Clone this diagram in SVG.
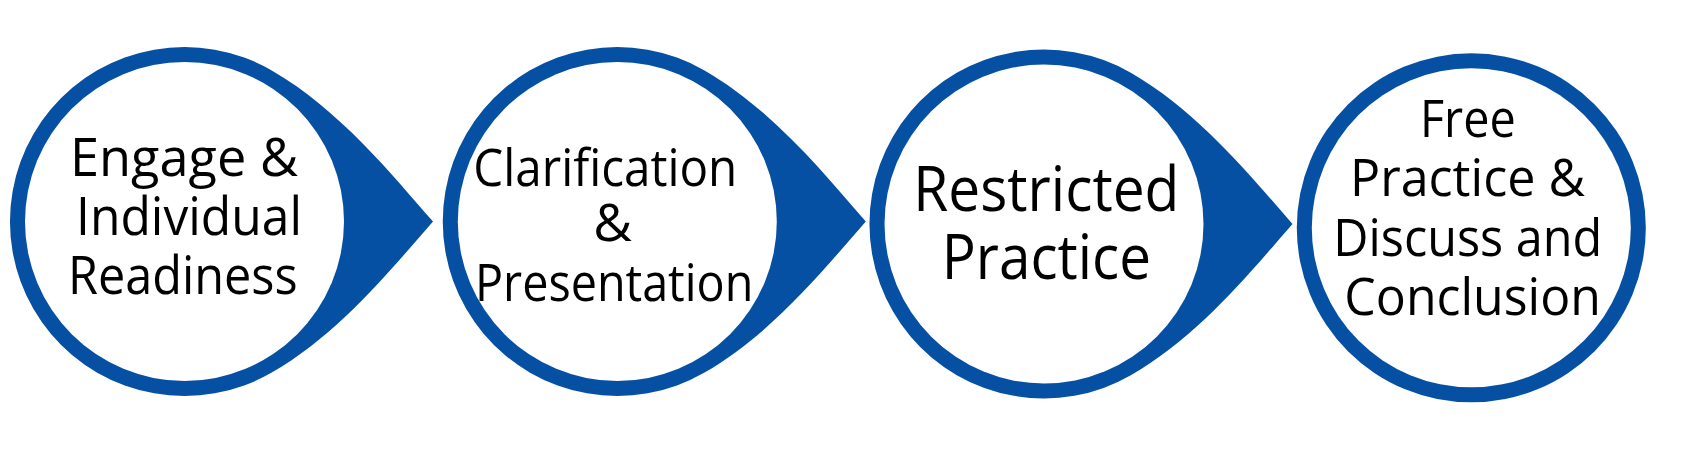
<svg xmlns="http://www.w3.org/2000/svg" width="1693" height="450" viewBox="0 0 1693 450">
  <style>
    .drop { fill: #0550A3; }
    .inner { fill: #FFFFFF; }
    .lbl { font-family: "Open Sans", "Noto Sans", "DejaVu Sans", sans-serif; fill: #000000; }
  </style>
  <defs>
    <path id="teardrop" d="M 248.5 0 C 208 -46.1 155.3 -111.9 87.25 -151.1 A 174.5 174.5 0 1 0 87.25 151.1 C 155.3 111.9 208 46.1 248.5 0 Z"/>
  </defs>
  <rect x="0" y="0" width="1693" height="450" fill="#FFFFFF"/>
  <g id="connectors"></g>

  <g id="node1">
    <use href="#teardrop" class="drop" transform="translate(184.5 221.5)"/>
    <circle class="inner" cx="184.5" cy="221.5" r="159.5"/>
    <text class="lbl" font-size="53">
      <tspan x="70" y="176" textLength="228" lengthAdjust="spacingAndGlyphs">Engage &amp;</tspan>
      <tspan x="76" y="235" textLength="226" lengthAdjust="spacingAndGlyphs">Individual</tspan>
      <tspan x="68" y="294.3" textLength="229.7" lengthAdjust="spacingAndGlyphs">Readiness</tspan>
    </text>
  </g>

  <g id="node2">
    <use href="#teardrop" class="drop" transform="translate(617.3 221.5)"/>
    <circle class="inner" cx="617.3" cy="221.5" r="159.5"/>
    <text class="lbl" font-size="50.5">
      <tspan x="473.3" y="185.7" textLength="264" lengthAdjust="spacingAndGlyphs">Clarification</tspan>
      <tspan x="593.3" y="240.7" textLength="38.7" lengthAdjust="spacingAndGlyphs">&amp;</tspan>
      <tspan x="475" y="301" textLength="278.3" lengthAdjust="spacingAndGlyphs">Presentation</tspan>
    </text>
  </g>

  <g id="node3">
    <use href="#teardrop" class="drop" transform="translate(1044 224)"/>
    <circle class="inner" cx="1044" cy="224" r="159.5"/>
    <text class="lbl" font-size="61.5">
      <tspan x="913.3" y="210.7" textLength="266" lengthAdjust="spacingAndGlyphs">Restricted</tspan>
      <tspan x="941.7" y="279.3" textLength="209.3" lengthAdjust="spacingAndGlyphs">Practice</tspan>
    </text>
  </g>

  <g id="node4">
    <circle class="drop" cx="1471.3" cy="227.8" r="174.5"/>
    <circle class="inner" cx="1471.3" cy="227.8" r="159.5"/>
    <text class="lbl" font-size="51.4">
      <tspan x="1420" y="136.7" textLength="95.7" lengthAdjust="spacingAndGlyphs">Free</tspan>
      <tspan x="1350" y="196" textLength="235" lengthAdjust="spacingAndGlyphs">Practice &amp;</tspan>
      <tspan x="1333.3" y="256" textLength="269" lengthAdjust="spacingAndGlyphs">Discuss and</tspan>
      <tspan x="1344.3" y="315.3" textLength="256.7" lengthAdjust="spacingAndGlyphs">Conclusion</tspan>
    </text>
  </g>
</svg>
